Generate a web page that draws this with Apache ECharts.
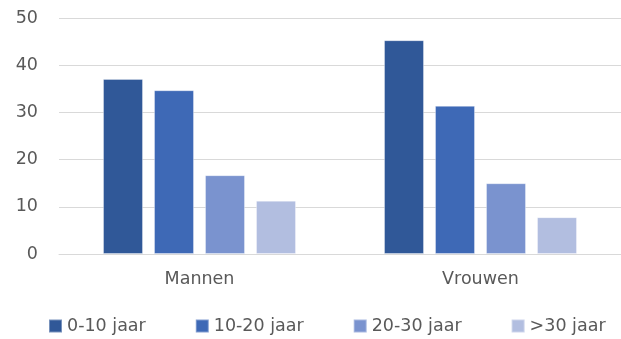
<!DOCTYPE html>
<html><head><meta charset="utf-8">
<script src="https://cdn.jsdelivr.net/npm/echarts@6/dist/echarts.min.js"></script>
<style>html,body{margin:0;padding:0;background:#fff}#c{width:621px;height:339px}</style>
</head><body><div id="c"></div>
<script>
const categories = ['Mannen', 'Vrouwen'];
const seriesNames = ['0-10 jaar', '10-20 jaar', '20-30 jaar', '>30 jaar'];
const v0_10 = [37.1, 45.3];
const v10_20 = [34.7, 31.4];
const v20_30 = [16.7, 15.0];
const v30plus = [11.3, 7.8];
const colors = ['#305898', '#3E69B6', '#7A93CF', '#B2BEE0'];
const values = [v0_10, v10_20, v20_30, v30plus];
const font = '"DejaVu Sans", sans-serif';
const chart = echarts.init(document.getElementById('c'), null, {renderer: 'canvas'});
chart.setOption({
  animation: false,
  textStyle: {fontFamily: font},
  grid: {left: 59, width: 567, top: 18, bottom: 85, containLabel: false},
  legend: {
    left: 48, top: 317, padding: 0, itemWidth: 13, itemHeight: 13, itemGap: 49,
    icon: 'rect',
    textStyle: {fontSize: 17.5, color: '#595959', fontFamily: font},
    data: seriesNames
  },
  xAxis: {
    type: 'category', data: categories,
    axisLine: {lineStyle: {color: '#D9D9D9', width: 1}},
    axisTick: {show: false},
    axisLabel: {fontSize: 17.5, color: '#595959', margin: 16, fontFamily: font}
  },
  yAxis: {
    type: 'value', min: 0, max: 50, interval: 10,
    axisLine: {show: false}, axisTick: {show: false},
    splitLine: {lineStyle: {color: '#D9D9D9', width: 1}},
    axisLabel: {fontSize: 17.5, color: '#595959', margin: 21, fontFamily: font}
  },
  series: seriesNames.map((n, i) => ({
    name: n, type: 'bar', data: values[i], barWidth: 40, barGap: '27.5%',
    itemStyle: {color: colors[i], borderColor: 'rgba(255,255,255,0.35)', borderWidth: 1}
  }))
});
</script></body></html>
